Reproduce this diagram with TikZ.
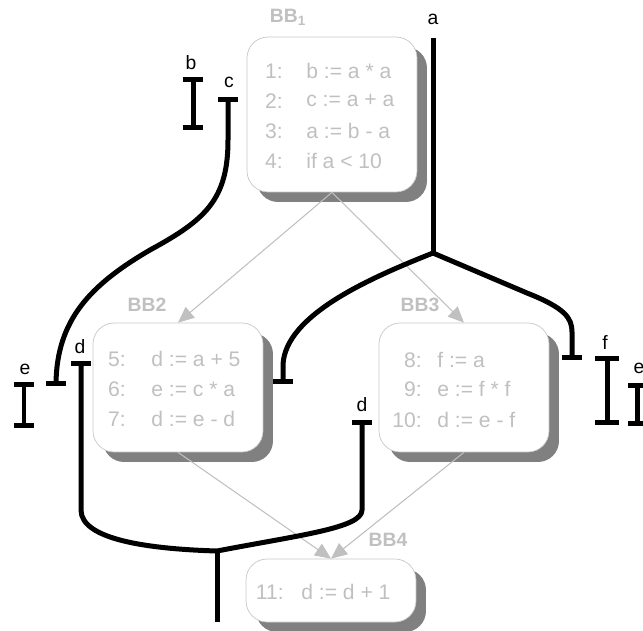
\documentclass[tikz,border=0pt]{standalone}
\usepackage{fontspec}
\setmainfont{Liberation Sans}
\usetikzlibrary{arrows.meta,shadows}
\definecolor{codegray}{RGB}{192,192,192}
\definecolor{framegray}{RGB}{200,200,200}
\definecolor{shadegray}{RGB}{128,128,128}
\def\ibeam(#1:#2:#3:#4){\draw[live] (#1,#2) -- (#1,#3); \draw[live] (#1-#4,#2) -- (#1+#4,#2); \draw[live] (#1-#4,#3) -- (#1+#4,#3);}
\def\tbar(#1,#2){\draw[live] (#1-10,#2) -- (#1+10,#2);}

\begin{document}
\begin{tikzpicture}[x=0.02cm, y=-0.02cm,
		live/.style={line width=1mm, black},
		block/.style={draw=framegray, fill=white, rounded corners=0.42cm, inner sep=0pt, minimum width=3.4cm,
			drop shadow={shadow xshift=0.2cm, shadow yshift=-0.2cm, fill=shadegray, opacity=1}},
		stmt/.style={inner sep=0pt, text=codegray, font=\fontsize{12}{14}\selectfont},
		bblabel/.style={inner sep=0pt, text=codegray, font=\fontsize{11}{13}\selectfont\bfseries},
		var/.style={inner sep=0pt, font=\fontsize{11}{13}\selectfont},
		cfgedge/.style={draw=codegray, line width=0.6pt, -{Triangle[length=0.32cm, width=0.28cm]}}]
		\useasboundingbox (0,0) rectangle (643,630);
		\clip (0,0) rectangle (643,630);
		%%%%% START %%%%%
		\node[block, minimum height=3.1cm] (bb1) at (332,114.5) {};
		\node[block, minimum height=2.58cm] (bb2) at (178,387.5) {};
		\node[block, minimum height=2.58cm] (bb3) at (464,387.5) {};
		\node[block, minimum height=1.26cm] (bb4) at (331,590.5) {};
		
		\node[bblabel] (lbl1) at (288,17) {BB\textsubscript{1}};
		\node[bblabel] (lbl2) at (147,305) {BB2};
		\node[bblabel] (lbl3) at (420,305) {BB3};
		\node[bblabel] (lbl4) at (388,540) {BB4};
		
		\foreach \n/\y/\s in {1/71/{b := a * a}, 2/101/{c := a + a}, 3/131/{a := b - a}, 4/161/{if a < 10}}
			{\node[stmt, anchor=east] (n\n) at (283,\y) {\n:};
			\node[stmt, anchor=west] (s\n) at (306,\y) {\s};}
		\foreach \n/\y/\s in {5/359/{d := a + 5}, 6/389/{e := c * a}, 7/419/{d := e - d}}
			{\node[stmt, anchor=east] (n\n) at (126,\y) {\n:};
			\node[stmt, anchor=west] (s\n) at (151,\y) {\s};}
		\foreach \n/\y/\s in {8/360/{f := a}, 9/389/{e := f * f}, 10/420/{d := e - f}}
			{\node[stmt, anchor=east] (n\n) at (422,\y) {\n:};
			\node[stmt, anchor=west] (s\n) at (437,\y) {\s};}
		\node[stmt, anchor=east] (n11) at (284,592) {11:};
		\node[stmt, anchor=west] (s11) at (301,592) {d := d + 1};
		
		\draw[cfgedge] (bb1.south) -- (bb2.north);
		\draw[cfgedge] (bb1.south) -- (bb3.north);
		\draw[cfgedge] (bb2.south) -- (bb4.north);
		\draw[cfgedge] (bb3.south) -- (bb4.north);
		
		% live ranges
		\node[var] (va) at (433,19) {a};
		\draw[live] (433,38) -- (433,253) coordinate (ja);
		\draw[live] (ja) -- (527,293) .. controls (565,308) and (572,318) .. (572,332) -- (572,357);
		\tbar(572,357);
		\draw[live] (ja) .. controls (370,278) and (285,315) .. (283,365) -- (283,381);
		\tbar(283,381);
		
		\node[var] (vb) at (191,63) {b};
		\ibeam(193:79:127:10);
		
		\node[var] (vc) at (229,82) {c};
		\tbar(228,99);
		\draw[live] (228,99) -- (228,140) .. controls (228,200) and (205,220) .. (150,250) .. controls (90,285) and (57,320) .. (56,383);
		\tbar(56,383);
		
		\node[var] (ve1) at (25,369) {e};
		\ibeam(24:384:425:10);
		
		\node[var] (vd1) at (80,347) {d};
		\tbar(81,363);
		\draw[live] (81,363) -- (81,510) .. controls (81,540) and (150,549) .. (217,551) coordinate (jd);
		\node[var] (vd2) at (362,405) {d};
		\tbar(362,422);
		\draw[live] (362,422) -- (362,510) .. controls (362,528) and (300,535) .. (jd);
		\draw[live] (jd) -- (217,622);
		
		\node[var] (vf) at (605,342) {f};
		\ibeam(607:358:422:12);
		
		\node[var] (ve2) at (639,368) {e};
		\ibeam(637:385:423:9);
		%%%%% END %%%%%
	\end{tikzpicture}
\end{document}
